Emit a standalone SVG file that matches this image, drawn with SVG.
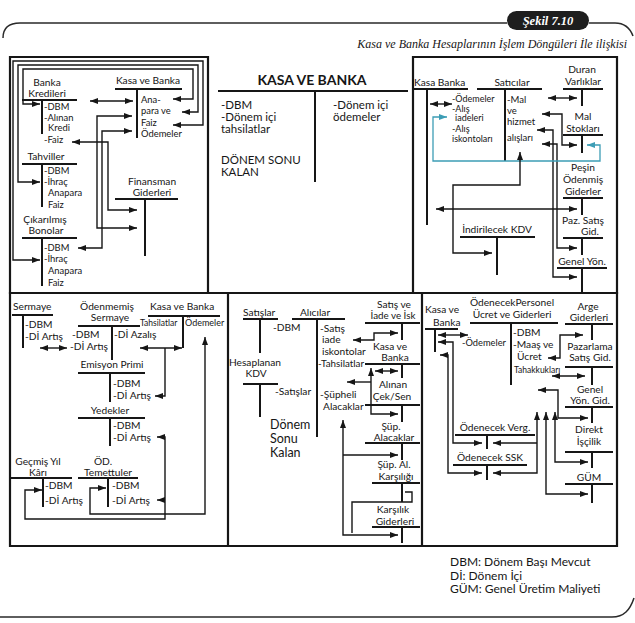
<svg xmlns="http://www.w3.org/2000/svg" width="635" height="623" viewBox="0 0 635 623">
<style>
text{font-family:Lato,"Open Sans","DejaVu Sans",sans-serif;font-size:10.2px;fill:#161616}
.m{text-anchor:middle}
.s{font-size:9px}
.xs{font-size:8.5px}
.e{font-size:9.4px}
.big{font-size:11.5px}
.tl{stroke:#161616;stroke-width:2;fill:none}
.bx{stroke:#161616;stroke-width:2.2;fill:none}
.c{stroke:#161616;stroke-width:1.4;fill:none}
.a2{marker-start:url(#ah);marker-end:url(#ah)}
.ae{marker-end:url(#ah)}
.teal{stroke:#3d9db5;stroke-width:1.3;fill:none;marker-start:url(#aht);marker-end:url(#aht)}
.frame{stroke:#2a2a2a;stroke-width:1.5;fill:none}
</style>
<defs>
<marker id="ah" viewBox="0 0 8 6" refX="8" refY="3" markerWidth="8" markerHeight="6" markerUnits="userSpaceOnUse" orient="auto-start-reverse"><path d="M0,0L8,3L0,6z" fill="#161616"/></marker>
<marker id="aht" viewBox="0 0 8 6" refX="8" refY="3" markerWidth="8" markerHeight="6" markerUnits="userSpaceOnUse" orient="auto-start-reverse"><path d="M0,0L8,3L0,6z" fill="#3d9db5"/></marker>
</defs>
<rect width="635" height="623" fill="#fff"/>

<g id="header">
<path class="frame" d="M3,38C3,28 8,23 20,23H507M589,23H615C625,23 630,28 633,36"/>
<path class="frame" d="M0,617H612C624,617 630,610 634,598"/>
<rect x="507" y="11" width="82" height="19" rx="9.5" fill="#1e1e1e"/>
<text x="548" y="25" style="font-family:'Liberation Serif',serif;font-style:italic;font-weight:bold;font-size:12.5px;fill:#fff;text-anchor:middle">Şekil 7.10</text>
<text x="627" y="48" style="font-family:'Liberation Serif',serif;font-style:italic;font-size:12px;text-anchor:end">Kasa ve Banka Hesaplarının İşlem Döngüleri İle ilişkisi</text>
</g>

<g id="panels">
<path class="bx" d="M10,57H208V293H10Z"/>
<path class="bx" d="M413,57H617V293H413Z"/>
<path class="bx" d="M10,293H617V546H10Z"/>
<path class="bx" d="M228,293V546M422,293V546"/>
</g>

<!-- Top-left -->
<g id="banka-kredileri">
<text class="m" x="47" y="86">Banka</text>
<text class="m" x="47" y="97">Kredileri</text>
<path class="tl" d="M22,100H77M42,100V134"/>
<text class="e" x="44" y="110">-DBM</text>
<text class="e" x="44" y="120.5">-Alınan</text>
<text class="e" x="48" y="131">Kredi</text>
<text class="e" x="44" y="143">-Faiz</text>
</g>
<g id="kasa-banka-tl">
<text class="m" x="148" y="84">Kasa ve Banka</text>
<path class="tl" d="M115,89H182M137,89V138"/>
<text class="e" x="141" y="103">Ana-</text>
<text class="e" x="141" y="114">para ve</text>
<text class="e" x="141" y="126">Faiz</text>
<text class="e" x="141" y="137">Ödemeler</text>
</g>
<g id="tahviller">
<text class="m" x="46" y="160">Tahviller</text>
<path class="tl" d="M22,164H77M42,164V207"/>
<text class="e" x="44" y="174">-DBM</text>
<text class="e" x="44" y="184.5">-İhraç</text>
<text class="e" x="48" y="196">Anapara</text>
<text class="e" x="48" y="208">Faiz</text>
</g>
<g id="finansman-giderleri">
<text class="m" x="152" y="185">Finansman</text>
<text class="m" x="152" y="196">Giderleri</text>
<path class="tl" d="M115,199H178M145,199V256"/>
</g>
<g id="cikarilmis-bonolar">
<text class="m" x="45" y="223">Çıkarılmış</text>
<text class="m" x="46" y="234">Bonolar</text>
<path class="tl" d="M22,238H77M42,238V286"/>
<text class="e" x="44" y="251">-DBM</text>
<text class="e" x="44" y="262">-İhraç</text>
<text class="e" x="48" y="274">Anapara</text>
<text class="e" x="48" y="286">Faiz</text>
</g>

<!-- Top-middle -->
<g id="kasa-ve-banka-main">
<text class="m" x="312" y="85" style="font-weight:bold;font-size:14px">KASA VE BANKA</text>
<path class="tl" d="M218,91H408M315,91V182"/>
<text class="big" x="221" y="109">-DBM</text>
<text class="big" x="221" y="121">-Dönem içi</text>
<text class="big" x="221" y="133">tahsilatlar</text>
<text class="big" x="221" y="164">DÖNEM SONU</text>
<text class="big" x="221" y="176">KALAN</text>
<text class="big" x="333" y="109">-Dönem içi</text>
<text class="big" x="333" y="121">ödemeler</text>
</g>

<!-- Top-right -->
<g id="kasa-banka-tr">
<text x="414" y="86">Kasa Banka</text>
<path class="tl" d="M413,89H468M427,89V225"/>
</g>
<g id="saticilar">
<text class="m" x="512" y="86">Satıcılar</text>
<path class="tl" d="M477,89H542M505,89V161"/>
<text x="452" y="101.5" style="font-size:9px">-Ödemeler</text>
<text x="452" y="111.5" style="font-size:9px">-Alış</text>
<text x="455" y="121" style="font-size:9px">iadeleri</text>
<text x="452" y="131.5" style="font-size:9px">-Alış</text>
<text x="452" y="141.5" style="font-size:9px">iskontoları</text>
<text x="507" y="103" style="font-size:9.5px">-Mal</text>
<text x="507" y="114" style="font-size:9.5px">ve</text>
<text x="507" y="125" style="font-size:9.5px">hizmet</text>
<text x="507" y="141" style="font-size:9.5px">alışları</text>
</g>
<g id="duran-varliklar">
<text class="m" x="582" y="73">Duran</text>
<text class="m" x="583" y="85">Varlıklar</text>
<path class="tl" d="M563,89H603M582,89V106"/>
</g>
<g id="mal-stoklari">
<text class="m" x="583" y="120">Mal</text>
<text class="m" x="583" y="132">Stokları</text>
<path class="tl" d="M563,135H603M582,135V153"/>
</g>
<g id="pesin-odenmis">
<text class="m" x="583" y="171">Peşin</text>
<text class="m" x="583" y="183">Ödenmiş</text>
<text class="m" x="583" y="195">Giderler</text>
<path class="tl" d="M563,198H603M582,198V215"/>
</g>
<g id="paz-satis-gid">
<text class="m" x="583" y="224">Paz. Satış</text>
<text class="m" x="590" y="235">Gid.</text>
<path class="tl" d="M563,238H603M582,238V255"/>
</g>
<g id="genel-yon">
<text class="m" x="582" y="265">Genel Yön.</text>
<path class="tl" d="M557,268H607M582,268V293"/>
</g>
<g id="indirilecek-kdv">
<text class="m" x="497" y="233">İndirilecek KDV</text>
<path class="tl" d="M460,237H535M497,237V275"/>
</g>

<!-- Bottom-left -->
<g id="sermaye">
<text x="13" y="310">Sermaye</text>
<path class="tl" d="M12,315H53M23,315V348"/>
<text x="25" y="328">-DBM</text>
<text x="25" y="340">-Dİ Artış</text>
</g>
<g id="odenmemis-sermaye">
<text class="m" x="107" y="310">Ödenmemiş</text>
<text class="m" x="110" y="321">Sermaye</text>
<path class="tl" d="M78,326H140M112,326V360"/>
<text x="72" y="338">-DBM</text>
<text x="70" y="350">-Dİ Artış</text>
<text x="114" y="338">-Dİ Azalış</text>
</g>
<g id="kasa-banka-bl">
<text x="150" y="310">Kasa ve Banka</text>
<path class="tl" d="M148,316H220M183,316V348"/>
<text class="xs" x="140" y="326">Tahsilatlar</text>
<text class="s" x="185" y="326">Ödemeler</text>
</g>
<g id="emisyon-primi">
<text class="m" x="112" y="368">Emisyon Primi</text>
<path class="tl" d="M78,373H145M110,373V402"/>
<text x="113" y="387">-DBM</text>
<text x="113" y="399">-Dİ Artış</text>
</g>
<g id="yedekler">
<text class="m" x="110" y="414">Yedekler</text>
<path class="tl" d="M78,418H145M110,418V446"/>
<text x="113" y="429">-DBM</text>
<text x="113" y="441">-Dİ Artış</text>
</g>
<g id="gecmis-yil-kari">
<text class="m" x="38" y="465">Geçmiş Yıl</text>
<text class="m" x="38" y="476">Kârı</text>
<path class="tl" d="M10,478H72M43,478V507"/>
<text x="45" y="489">-DBM</text>
<text x="45" y="504">-Dİ Artış</text>
</g>
<g id="od-temettuler">
<text class="m" x="103" y="465">ÖD.</text>
<text class="m" x="108" y="476">Temettuler</text>
<path class="tl" d="M78,478H138M108,478V507"/>
<text x="112" y="489">-DBM</text>
<text x="112" y="504">-Dİ Artış</text>
</g>

<!-- Bottom-middle -->
<g id="satislar">
<text x="243" y="316">Satışlar</text>
<path class="tl" d="M243,319H278M260,319V353"/>
</g>
<g id="alicilar">
<text class="m" x="315" y="316">Alıcılar</text>
<path class="tl" d="M292,319H345M317,319V437"/>
<text x="273" y="331">-DBM</text>
<text x="320" y="332">-Satış</text>
<text x="322" y="343">iade</text>
<text x="322" y="355">iskontolar</text>
<text x="318" y="367" style="font-size:9.8px">-Tahsilatlar</text>
<text x="320" y="398">-Şüpheli</text>
<text x="323" y="410">Alacaklar</text>
</g>
<g id="hesaplanan-kdv">
<text class="m" x="255" y="366">Hesaplanan</text>
<text class="m" x="256" y="377">KDV</text>
<path class="tl" d="M243,384H278M260,384V417"/>
<text x="275" y="395">-Satışlar</text>
</g>
<g id="donem-sonu-kalan">
<text x="270" y="429" style="font-size:12.5px">Dönem</text>
<text x="270" y="443" style="font-size:12.5px">Sonu</text>
<text x="270" y="457" style="font-size:12.5px">Kalan</text>
</g>
<g id="satis-iade-isk">
<text class="m" x="394" y="308">Satış ve</text>
<text class="m" x="393" y="319" style="font-size:9.8px">İade ve İsk</text>
<path class="tl" d="M365,323H420M402,323V340"/>
</g>
<g id="kasa-banka-bm">
<text class="m" x="390" y="350">Kasa ve</text>
<text class="m" x="395" y="361">Banka</text>
<path class="tl" d="M365,364H420M402,364V378"/>
</g>
<g id="alinan-cek-sen">
<text class="m" x="393" y="388">Alınan</text>
<text class="m" x="392" y="400">Çek/Sen</text>
<path class="tl" d="M365,405H420M402,405V422"/>
</g>
<g id="sup-alacaklar">
<text class="m" x="391" y="430">Şüp.</text>
<text class="m" x="394" y="441">Alacaklar</text>
<path class="tl" d="M365,443H420M402,443V460"/>
</g>
<g id="sup-al-karsiligi">
<text class="m" x="394" y="468">Şüp. Al.</text>
<text class="m" x="396" y="480">Karşılığı</text>
<path class="tl" d="M372,483H420M402,483V502"/>
</g>
<g id="karsilik-giderleri">
<text class="m" x="393" y="513">Karşılık</text>
<text class="m" x="395" y="525">Giderleri</text>
<path class="tl" d="M372,527H420M402,527V543"/>
</g>

<!-- Bottom-right -->
<g id="kasa-banka-br">
<text x="425" y="313">Kasa ve</text>
<text x="433" y="326">Banka</text>
<path class="tl" d="M425,329H458M435,329V352"/>
</g>
<g id="odenecek-personel">
<text class="m" x="512" y="306">ÖdenecekPersonel</text>
<text class="m" x="512" y="318">Ücret ve Giderleri</text>
<path class="tl" d="M470,323H558M511,323V385"/>
<text x="462" y="346" style="font-size:9.3px">-Ödemeler</text>
<text x="513" y="336">-DBM</text>
<text x="513" y="348">-Maaş ve</text>
<text x="517" y="360">Ücret</text>
<text class="xs" x="514" y="373">Tahakkukları</text>
</g>
<g id="arge-giderleri">
<text class="m" x="588" y="310">Arge</text>
<text class="m" x="589" y="321">Giderleri</text>
<path class="tl" d="M565,324H613M592,324V340"/>
</g>
<g id="pazarlama-satis-gid">
<text class="m" x="590" y="350">Pazarlama</text>
<text class="m" x="590" y="361">Satış Gid.</text>
<path class="tl" d="M565,367H613M592,367V385"/>
</g>
<g id="genel-yon-gid">
<text class="m" x="590" y="393">Genel</text>
<text class="m" x="590" y="404">Yön. Gid.</text>
<path class="tl" d="M565,407H613M592,407V423"/>
</g>
<g id="direkt-iscilik">
<text class="m" x="589" y="433">Direkt</text>
<text class="m" x="589" y="445">İşçilik</text>
<path class="tl" d="M565,452H613M592,452V468"/>
</g>
<g id="gum">
<text class="m" x="589" y="481">GÜM</text>
<path class="tl" d="M565,484H613M592,484V503"/>
</g>
<g id="odenecek-verg">
<text class="m" x="495" y="431">Ödenecek Verg.</text>
<path class="tl" d="M455,435H535M487,435V449"/>
</g>
<g id="odenecek-ssk">
<text class="m" x="490" y="461">Ödenecek SSK</text>
<path class="tl" d="M453,465H527M487,465V480"/>
</g>

<g id="connectors">
<path class="c a2" d="M173,125H203V61H13V260H40"/>
<path class="c a2" d="M182,112H198V65H18V182H40"/>
<path class="c a2" d="M173,99H193V69H23V104H40"/>
<path class="c a2" d="M90,101H133"/>
<path class="c a2" d="M132,116H97V228H137"/>
<path class="c a2" d="M132,131H102V248H78"/>
<path class="c a2" d="M72,142H108V210H137"/>
<path class="c a2" d="M430,104H452"/>
<path class="c a2" d="M548,98H577"/>
<path class="c a2" d="M542,114H562V145H577"/>
<path class="c a2" d="M537,130H553V277H577"/>
<path class="c a2" d="M542,144H557V248H577"/>
<path class="teal" d="M447,117H433V161H600V145H587"/>
<path class="c a2" d="M520,152V185H453V253H492"/>
<path class="c a2" d="M436,209H577"/>
<path class="c a2" d="M40,348H67"/>
<path class="c a2" d="M140,348H182"/>
<path class="c ae" d="M165,348V396H155"/>
<path class="c a2" d="M157,437H165V519H25V490H42"/>
<path class="c ae" d="M165,500H157"/>
<path class="c a2" d="M205,337V514H90V488H106"/>
<path class="c a2" d="M398,333H374V340H353"/>
<path class="c a2" d="M375,371H398"/>
<path class="c a2" d="M371,368V414H398"/>
<path class="c ae" d="M371,382H347"/>
<path class="c a2" d="M343,420V535H398"/>
<path class="c ae" d="M343,455H398"/>
<path class="c" d="M405,492H412V502H352V533"/>
<path class="c a2" d="M438,335H468"/>
<path class="c a2" d="M438,342H453V443H482"/>
<path class="c a2" d="M440,355H448V473H482"/>
<path class="c a2" d="M548,358H560V335H583"/>
<path class="c a2" d="M552,376H585"/>
<path class="c a2" d="M538,390H558V418H588"/>
<path class="c a2" d="M537,412V473H493"/>
<path class="c ae" d="M537,443H493"/>
<path class="c a2" d="M546,412V494H588"/>
<path class="c a2" d="M555,412V462H588"/>
</g>

<g id="legend">
<text x="450" y="566" style="font-size:12px">DBM: Dönem Başı Mevcut</text>
<text x="450" y="579.5" style="font-size:12px">Dİ: Dönem İçi</text>
<text x="450" y="593" style="font-size:12px">GÜM: Genel Üretim Maliyeti</text>
</g>
</svg>
